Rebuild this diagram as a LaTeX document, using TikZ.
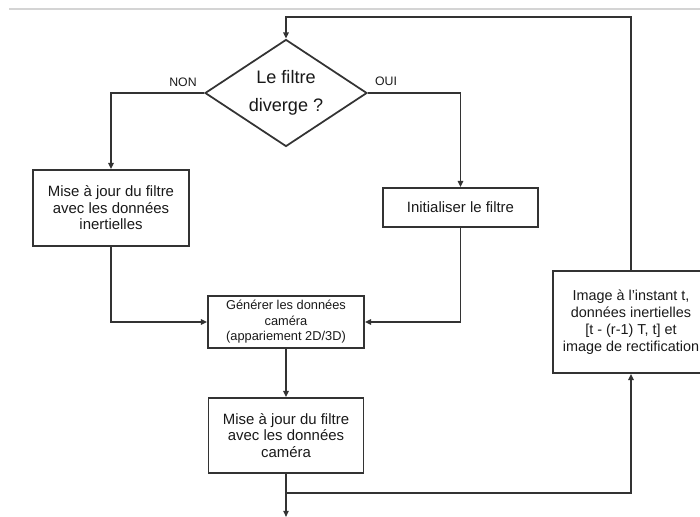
\documentclass[tikz,border=0pt]{standalone}
\usepackage{fontspec}
\setmainfont{Liberation Sans}
\usetikzlibrary{arrows.meta,shapes.geometric}

\begin{document}
\begin{tikzpicture}[x=0.02cm,y=-0.02cm]
\tikzset{
  stepbox/.style={rectangle,draw=black!80,line width=1pt,align=center,inner sep=1pt,text=black!90,font=\fontsize{8.5}{9.4}\selectfont},
  testnode/.style={diamond,aspect=1.5,draw=black!80,line width=1pt,inner sep=0pt,minimum width=3.24cm,minimum height=2.14cm,align=center,text=black!90,font=\fontsize{10.3}{16.2}\selectfont},
  branchlabel/.style={inner sep=0pt,text=black!90,font=\fontsize{7}{8}\selectfont},
  directed/.style={-{Triangle[length=3.5pt,width=3pt]},draw=black!80,line width=1pt},
  plain/.style={draw=black!80,line width=1pt}
}
\useasboundingbox (0,0) rectangle (700,517);
\draw[black!17,line width=1.1pt] (9,9) -- (700,9);
\node[testnode] (n_test) at (286,93) {Le filtre\\diverge ?};
\node[branchlabel] (l_non) at (183,82) {NON};
\node[branchlabel] (l_oui) at (386,81) {OUI};
\node[stepbox,minimum width=3.12cm,minimum height=1.52cm] (n_inert) at (111,208) {Mise à jour du filtre\\avec les données\\inertielles};
\node[stepbox,minimum width=3.10cm,minimum height=0.78cm] (n_init) at (460.5,207.5) {Initialiser le filtre};
\node[stepbox,minimum width=3.12cm,minimum height=1.04cm,font=\fontsize{7.3}{8.8}\selectfont] (n_gen) at (286,322) {Générer les données\\caméra\\(appariement 2D/3D)};
\node[stepbox,minimum width=3.10cm,minimum height=1.50cm] (n_cam) at (286,435.5) {Mise à jour du filtre\\avec les données\\caméra};
\node[stepbox,minimum width=3.12cm,minimum height=2.04cm,font=\fontsize{8.2}{9.6}\selectfont] (n_img) at (631,322) {Image à l'instant t,\\données inertielles\\{}[t - (r-1) T, t] et\\image de rectification};
\coordinate (n_loop) at (286,17);
\coordinate (n_split) at (286,493);
\coordinate (n_out) at (286,517);
\draw[directed] (n_test.west) -| (n_inert.north);
\draw[directed] (n_test.east) -| (n_init.north);
\draw[directed] (n_inert.south) |- (n_gen.west);
\draw[directed] (n_init.south) |- (n_gen.east);
\draw[directed] (n_gen.south) -- (n_cam.north);
\draw[directed] (n_cam.south) -- (n_out);
\draw[directed] (n_split) -| (n_img.south);
\draw[directed] (n_img.north) |- (n_loop) -- (n_test.north);
\end{tikzpicture}
\end{document}
